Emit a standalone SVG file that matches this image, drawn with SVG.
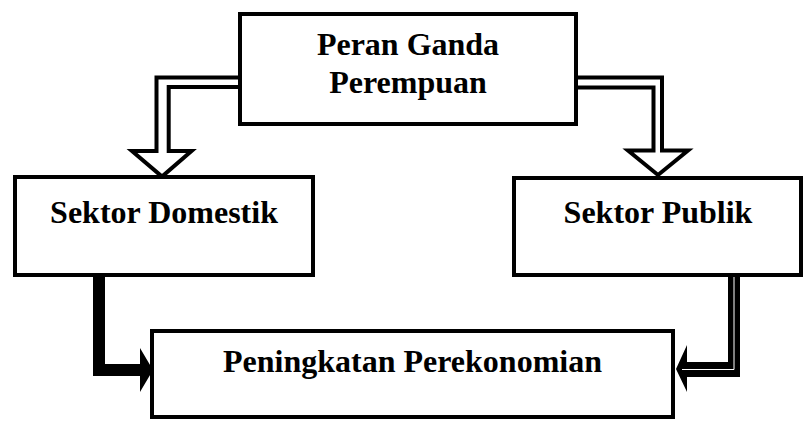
<svg xmlns="http://www.w3.org/2000/svg" width="804" height="421" viewBox="0 0 804 421">
<style>
.box{fill:#fff;stroke:#000;stroke-width:4;stroke-linejoin:miter}
.lbl{font-family:"Liberation Serif","Times New Roman",serif;font-weight:bold;font-size:32px;fill:#000;text-anchor:middle}
.hollow{fill:#fff;stroke:#000;stroke-width:4;stroke-linejoin:miter}
</style>
<rect width="804" height="421" fill="#fff"/>
<g id="connectors">
<path class="hollow" d="M240,77.5 H156.5 V151 H132 L162,176.5 L191.5,151 H168.7 V87 H240"/>
<path class="hollow" d="M576,77.5 H662 V150.5 H688 L658,175 L628,150.5 H653.5 V87.5 H576"/>
<polygon fill="#000" points="93,277 105,277 105,364 140,364 140,348 153,370 140,392 140,376 93,376"/>
<polygon fill="#000" points="728,277 740,277 740,377 687,377 687,392 676,369 687,345 687,362 728,362"/>
<polyline fill="none" stroke="#fff" stroke-width="1" points="734,277 734,369.5 682,369.5"/>
</g>
<g id="node-peran">
<rect class="box" x="240" y="14" width="336" height="110"/>
<text class="lbl" x="408" y="55">Peran Ganda</text>
<text class="lbl" x="408" y="93">Perempuan</text>
</g>
<g id="node-domestik">
<rect class="box" x="15" y="177" width="298" height="98"/>
<text class="lbl" x="164" y="223">Sektor Domestik</text>
</g>
<g id="node-publik">
<rect class="box" x="514" y="178" width="287" height="97"/>
<text class="lbl" x="658" y="223">Sektor Publik</text>
</g>
<g id="node-peningkatan">
<rect class="box" x="152" y="331" width="521" height="86"/>
<text class="lbl" x="412.5" y="372">Peningkatan Perekonomian</text>
</g>
</svg>
